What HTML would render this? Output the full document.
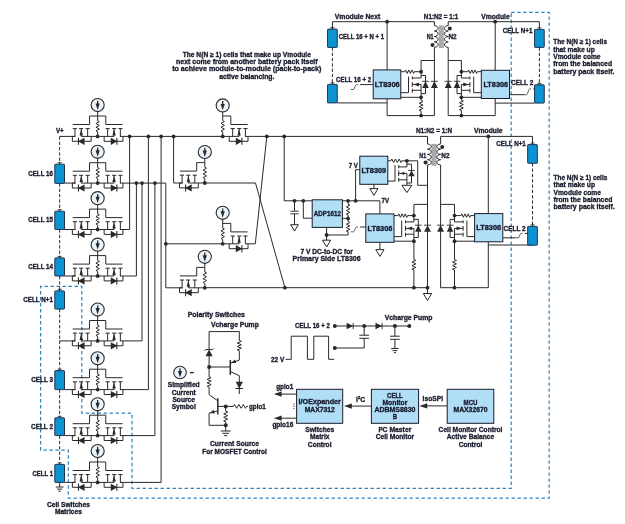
<!DOCTYPE html>
<html><head><meta charset="utf-8"><title>Active balancing diagram</title>
<style>
html,body{margin:0;padding:0;background:#fff;}
svg{display:block;will-change:transform;opacity:0.999;}
text{font-family:"Liberation Sans",sans-serif;font-weight:bold;stroke:#181b2c;stroke-width:0.32px;}
</style></head><body>
<svg width="625" height="524" viewBox="0 0 625 524">
<rect width="625" height="524" fill="#ffffff"/>
<polygon points="511.2,12.4 549.2,12.4 549.2,498.1 68.3,498.1 68.3,450.2 40.6,450.2 40.6,286.3 81.8,286.3 81.8,413.2 132,413.2 132,488.3 511.2,488.3" fill="none" stroke="#2b82bd" stroke-width="1.2" stroke-dasharray="3.4 2.6"/>
<line x1="59.65" y1="136.4" x2="59.65" y2="162.4" stroke="#2b2829" stroke-width="1" stroke-dasharray="3.3 2.0"/>
<line x1="59.65" y1="183.4" x2="59.65" y2="209.4" stroke="#2b2829" stroke-width="1" stroke-dasharray="3.3 2.0"/>
<line x1="59.65" y1="229.4" x2="59.65" y2="256.2" stroke="#2b2829" stroke-width="1" stroke-dasharray="3.3 2.0"/>
<line x1="59.65" y1="276" x2="59.65" y2="289.2" stroke="#2b2829" stroke-width="1" stroke-dasharray="3.3 2.0"/>
<line x1="59.65" y1="309" x2="59.65" y2="368.8" stroke="#2b2829" stroke-width="1" stroke-dasharray="3.3 2.0"/>
<line x1="59.65" y1="389.6" x2="59.65" y2="416.2" stroke="#2b2829" stroke-width="1" stroke-dasharray="3.3 2.0"/>
<line x1="59.65" y1="435.6" x2="59.65" y2="462.6" stroke="#2b2829" stroke-width="1" stroke-dasharray="3.3 2.0"/>
<line x1="59.65" y1="162.6" x2="59.65" y2="164.3" stroke="#2b2829" stroke-width="1" />
<line x1="57.65" y1="162.7" x2="61.65" y2="162.7" stroke="#2b2829" stroke-width="0.9" />
<rect x="54.8" y="164.2" width="9.7" height="19.2" fill="#0c93d2" stroke="#1c2b48" stroke-width="0.95" rx="0.6"/>
<line x1="59.65" y1="209.6" x2="59.65" y2="211.3" stroke="#2b2829" stroke-width="1" />
<line x1="57.65" y1="209.7" x2="61.65" y2="209.7" stroke="#2b2829" stroke-width="0.9" />
<rect x="54.8" y="211.2" width="9.7" height="18.3" fill="#0c93d2" stroke="#1c2b48" stroke-width="0.95" rx="0.6"/>
<line x1="59.65" y1="256.3" x2="59.65" y2="258" stroke="#2b2829" stroke-width="1" />
<line x1="57.65" y1="256.4" x2="61.65" y2="256.4" stroke="#2b2829" stroke-width="0.9" />
<rect x="54.8" y="257.9" width="9.7" height="18.1" fill="#0c93d2" stroke="#1c2b48" stroke-width="0.95" rx="0.6"/>
<line x1="59.65" y1="289.3" x2="59.65" y2="291" stroke="#2b2829" stroke-width="1" />
<line x1="57.65" y1="289.4" x2="61.65" y2="289.4" stroke="#2b2829" stroke-width="0.9" />
<rect x="54.8" y="290.9" width="9.7" height="18.2" fill="#0c93d2" stroke="#1c2b48" stroke-width="0.95" rx="0.6"/>
<line x1="59.65" y1="369" x2="59.65" y2="370.7" stroke="#2b2829" stroke-width="1" />
<line x1="57.65" y1="369.1" x2="61.65" y2="369.1" stroke="#2b2829" stroke-width="0.9" />
<rect x="54.8" y="370.6" width="9.7" height="19" fill="#0c93d2" stroke="#1c2b48" stroke-width="0.95" rx="0.6"/>
<line x1="59.65" y1="416.2" x2="59.65" y2="417.9" stroke="#2b2829" stroke-width="1" />
<line x1="57.65" y1="416.3" x2="61.65" y2="416.3" stroke="#2b2829" stroke-width="0.9" />
<rect x="54.8" y="417.8" width="9.7" height="17.8" fill="#0c93d2" stroke="#1c2b48" stroke-width="0.95" rx="0.6"/>
<line x1="59.65" y1="462.8" x2="59.65" y2="464.5" stroke="#2b2829" stroke-width="1" />
<line x1="57.65" y1="462.9" x2="61.65" y2="462.9" stroke="#2b2829" stroke-width="0.9" />
<rect x="54.8" y="464.4" width="9.7" height="18" fill="#0c93d2" stroke="#1c2b48" stroke-width="0.95" rx="0.6"/>
<line x1="59.65" y1="482.4" x2="59.65" y2="487" stroke="#2b2829" stroke-width="1" />
<line x1="55.75" y1="487" x2="63.55" y2="487" stroke="#2b2829" stroke-width="1" />
<line x1="57.15" y1="489.1" x2="62.15" y2="489.1" stroke="#2b2829" stroke-width="1" />
<line x1="58.45" y1="491.2" x2="60.85" y2="491.2" stroke="#2b2829" stroke-width="1" />
<line x1="59.65" y1="136.4" x2="75.35" y2="136.4" stroke="#2b2829" stroke-width="1" />
<line x1="64.45" y1="183.1" x2="75.35" y2="183.1" stroke="#2b2829" stroke-width="1" />
<line x1="64.45" y1="229.5" x2="75.35" y2="229.5" stroke="#2b2829" stroke-width="1" />
<line x1="64.45" y1="276" x2="75.35" y2="276" stroke="#2b2829" stroke-width="1" />
<line x1="64.45" y1="389.6" x2="75.35" y2="389.6" stroke="#2b2829" stroke-width="1" />
<line x1="64.45" y1="435.6" x2="75.35" y2="435.6" stroke="#2b2829" stroke-width="1" />
<line x1="64.45" y1="482.4" x2="75.35" y2="482.4" stroke="#2b2829" stroke-width="1" />
<line x1="59.65" y1="340.9" x2="75.35" y2="340.9" stroke="#2b2829" stroke-width="1" />
<circle cx="97.65" cy="105.1" r="6.55" fill="#eaf4fb" stroke="#2b2829" stroke-width="1.1"/>
<line x1="97.65" y1="100.8" x2="97.65" y2="105.1" stroke="#2b2829" stroke-width="1.3" />
<polygon points="95.55,103.6 99.75,103.6 97.65,110" fill="#2b2829" stroke="none" stroke-width="1"/>
<polyline points="97.65,111 97.65,120.8 99.35,121.72 95.95,123.55 99.35,125.38 95.95,127.22 99.35,129.05 95.95,130.88 97.65,131.8 97.65,136.4" fill="none" stroke="#2b2829" stroke-width="1" />
<polyline points="72.75,124.5 89.55,124.5 89.55,116 105.75,116 105.75,124.5 122.55,124.5" fill="none" stroke="#2b2829" stroke-width="1" />
<line x1="89.75" y1="128.6" x2="85.55" y2="128.6" stroke="#2b2829" stroke-width="1" />
<line x1="83.15" y1="128.6" x2="78.95" y2="128.6" stroke="#2b2829" stroke-width="1" />
<line x1="76.95" y1="128.6" x2="72.75" y2="128.6" stroke="#2b2829" stroke-width="1" />
<line x1="87.65" y1="128.6" x2="87.65" y2="136.4" stroke="#2b2829" stroke-width="1" />
<line x1="81.25" y1="128.6" x2="81.25" y2="136.4" stroke="#2b2829" stroke-width="1" />
<line x1="74.95" y1="128.6" x2="74.95" y2="136.4" stroke="#2b2829" stroke-width="1" />
<polygon points="79.55,135.4 82.95,135.4 81.25,129.1" fill="#2b2829" stroke="none" stroke-width="1"/>
<line x1="97.65" y1="136.4" x2="81.25" y2="136.4" stroke="#2b2829" stroke-width="1" />
<polyline points="91.15,136.4 91.15,141.3 72.35,141.3 72.35,136.4" fill="none" stroke="#2b2829" stroke-width="1" />
<line x1="75.35" y1="136.4" x2="72.35" y2="136.4" stroke="#2b2829" stroke-width="1" />
<polygon points="84.55,137.7 84.55,144.9 77.95,141.3" fill="#2b2829" stroke="none" stroke-width="1"/>
<line x1="78.45" y1="137.8" x2="78.45" y2="144.8" stroke="#2b2829" stroke-width="1.1" />
<line x1="105.55" y1="128.6" x2="109.75" y2="128.6" stroke="#2b2829" stroke-width="1" />
<line x1="112.15" y1="128.6" x2="116.35" y2="128.6" stroke="#2b2829" stroke-width="1" />
<line x1="118.35" y1="128.6" x2="122.55" y2="128.6" stroke="#2b2829" stroke-width="1" />
<line x1="107.65" y1="128.6" x2="107.65" y2="136.4" stroke="#2b2829" stroke-width="1" />
<line x1="114.05" y1="128.6" x2="114.05" y2="136.4" stroke="#2b2829" stroke-width="1" />
<line x1="120.35" y1="128.6" x2="120.35" y2="136.4" stroke="#2b2829" stroke-width="1" />
<polygon points="112.35,135.4 115.75,135.4 114.05,129.1" fill="#2b2829" stroke="none" stroke-width="1"/>
<line x1="97.65" y1="136.4" x2="114.05" y2="136.4" stroke="#2b2829" stroke-width="1" />
<polyline points="104.15,136.4 104.15,141.3 122.95,141.3 122.95,136.4" fill="none" stroke="#2b2829" stroke-width="1" />
<line x1="119.95" y1="136.4" x2="122.95" y2="136.4" stroke="#2b2829" stroke-width="1" />
<polygon points="110.75,137.7 110.75,144.9 117.35,141.3" fill="#2b2829" stroke="none" stroke-width="1"/>
<line x1="116.85" y1="137.8" x2="116.85" y2="144.8" stroke="#2b2829" stroke-width="1.1" />
<circle cx="97.65" cy="136.4" r="1.9" fill="#2b2829"/>
<circle cx="97.65" cy="151.8" r="6.55" fill="#eaf4fb" stroke="#2b2829" stroke-width="1.1"/>
<line x1="97.65" y1="147.5" x2="97.65" y2="151.8" stroke="#2b2829" stroke-width="1.3" />
<polygon points="95.55,150.3 99.75,150.3 97.65,156.7" fill="#2b2829" stroke="none" stroke-width="1"/>
<polyline points="97.65,157.7 97.65,167.5 99.35,168.42 95.95,170.25 99.35,172.08 95.95,173.92 99.35,175.75 95.95,177.58 97.65,178.5 97.65,183.1" fill="none" stroke="#2b2829" stroke-width="1" />
<polyline points="72.75,171.2 89.55,171.2 89.55,162.7 105.75,162.7 105.75,171.2 122.55,171.2" fill="none" stroke="#2b2829" stroke-width="1" />
<line x1="89.75" y1="175.3" x2="85.55" y2="175.3" stroke="#2b2829" stroke-width="1" />
<line x1="83.15" y1="175.3" x2="78.95" y2="175.3" stroke="#2b2829" stroke-width="1" />
<line x1="76.95" y1="175.3" x2="72.75" y2="175.3" stroke="#2b2829" stroke-width="1" />
<line x1="87.65" y1="175.3" x2="87.65" y2="183.1" stroke="#2b2829" stroke-width="1" />
<line x1="81.25" y1="175.3" x2="81.25" y2="183.1" stroke="#2b2829" stroke-width="1" />
<line x1="74.95" y1="175.3" x2="74.95" y2="183.1" stroke="#2b2829" stroke-width="1" />
<polygon points="79.55,182.1 82.95,182.1 81.25,175.8" fill="#2b2829" stroke="none" stroke-width="1"/>
<line x1="97.65" y1="183.1" x2="81.25" y2="183.1" stroke="#2b2829" stroke-width="1" />
<polyline points="91.15,183.1 91.15,188 72.35,188 72.35,183.1" fill="none" stroke="#2b2829" stroke-width="1" />
<line x1="75.35" y1="183.1" x2="72.35" y2="183.1" stroke="#2b2829" stroke-width="1" />
<polygon points="84.55,184.4 84.55,191.6 77.95,188" fill="#2b2829" stroke="none" stroke-width="1"/>
<line x1="78.45" y1="184.5" x2="78.45" y2="191.5" stroke="#2b2829" stroke-width="1.1" />
<line x1="105.55" y1="175.3" x2="109.75" y2="175.3" stroke="#2b2829" stroke-width="1" />
<line x1="112.15" y1="175.3" x2="116.35" y2="175.3" stroke="#2b2829" stroke-width="1" />
<line x1="118.35" y1="175.3" x2="122.55" y2="175.3" stroke="#2b2829" stroke-width="1" />
<line x1="107.65" y1="175.3" x2="107.65" y2="183.1" stroke="#2b2829" stroke-width="1" />
<line x1="114.05" y1="175.3" x2="114.05" y2="183.1" stroke="#2b2829" stroke-width="1" />
<line x1="120.35" y1="175.3" x2="120.35" y2="183.1" stroke="#2b2829" stroke-width="1" />
<polygon points="112.35,182.1 115.75,182.1 114.05,175.8" fill="#2b2829" stroke="none" stroke-width="1"/>
<line x1="97.65" y1="183.1" x2="114.05" y2="183.1" stroke="#2b2829" stroke-width="1" />
<polyline points="104.15,183.1 104.15,188 122.95,188 122.95,183.1" fill="none" stroke="#2b2829" stroke-width="1" />
<line x1="119.95" y1="183.1" x2="122.95" y2="183.1" stroke="#2b2829" stroke-width="1" />
<polygon points="110.75,184.4 110.75,191.6 117.35,188" fill="#2b2829" stroke="none" stroke-width="1"/>
<line x1="116.85" y1="184.5" x2="116.85" y2="191.5" stroke="#2b2829" stroke-width="1.1" />
<circle cx="97.65" cy="183.1" r="1.9" fill="#2b2829"/>
<circle cx="97.65" cy="198.2" r="6.55" fill="#eaf4fb" stroke="#2b2829" stroke-width="1.1"/>
<line x1="97.65" y1="193.9" x2="97.65" y2="198.2" stroke="#2b2829" stroke-width="1.3" />
<polygon points="95.55,196.7 99.75,196.7 97.65,203.1" fill="#2b2829" stroke="none" stroke-width="1"/>
<polyline points="97.65,204.1 97.65,213.9 99.35,214.82 95.95,216.65 99.35,218.48 95.95,220.32 99.35,222.15 95.95,223.98 97.65,224.9 97.65,229.5" fill="none" stroke="#2b2829" stroke-width="1" />
<polyline points="72.75,217.6 89.55,217.6 89.55,209.1 105.75,209.1 105.75,217.6 122.55,217.6" fill="none" stroke="#2b2829" stroke-width="1" />
<line x1="89.75" y1="221.7" x2="85.55" y2="221.7" stroke="#2b2829" stroke-width="1" />
<line x1="83.15" y1="221.7" x2="78.95" y2="221.7" stroke="#2b2829" stroke-width="1" />
<line x1="76.95" y1="221.7" x2="72.75" y2="221.7" stroke="#2b2829" stroke-width="1" />
<line x1="87.65" y1="221.7" x2="87.65" y2="229.5" stroke="#2b2829" stroke-width="1" />
<line x1="81.25" y1="221.7" x2="81.25" y2="229.5" stroke="#2b2829" stroke-width="1" />
<line x1="74.95" y1="221.7" x2="74.95" y2="229.5" stroke="#2b2829" stroke-width="1" />
<polygon points="79.55,228.5 82.95,228.5 81.25,222.2" fill="#2b2829" stroke="none" stroke-width="1"/>
<line x1="97.65" y1="229.5" x2="81.25" y2="229.5" stroke="#2b2829" stroke-width="1" />
<polyline points="91.15,229.5 91.15,234.4 72.35,234.4 72.35,229.5" fill="none" stroke="#2b2829" stroke-width="1" />
<line x1="75.35" y1="229.5" x2="72.35" y2="229.5" stroke="#2b2829" stroke-width="1" />
<polygon points="84.55,230.8 84.55,238 77.95,234.4" fill="#2b2829" stroke="none" stroke-width="1"/>
<line x1="78.45" y1="230.9" x2="78.45" y2="237.9" stroke="#2b2829" stroke-width="1.1" />
<line x1="105.55" y1="221.7" x2="109.75" y2="221.7" stroke="#2b2829" stroke-width="1" />
<line x1="112.15" y1="221.7" x2="116.35" y2="221.7" stroke="#2b2829" stroke-width="1" />
<line x1="118.35" y1="221.7" x2="122.55" y2="221.7" stroke="#2b2829" stroke-width="1" />
<line x1="107.65" y1="221.7" x2="107.65" y2="229.5" stroke="#2b2829" stroke-width="1" />
<line x1="114.05" y1="221.7" x2="114.05" y2="229.5" stroke="#2b2829" stroke-width="1" />
<line x1="120.35" y1="221.7" x2="120.35" y2="229.5" stroke="#2b2829" stroke-width="1" />
<polygon points="112.35,228.5 115.75,228.5 114.05,222.2" fill="#2b2829" stroke="none" stroke-width="1"/>
<line x1="97.65" y1="229.5" x2="114.05" y2="229.5" stroke="#2b2829" stroke-width="1" />
<polyline points="104.15,229.5 104.15,234.4 122.95,234.4 122.95,229.5" fill="none" stroke="#2b2829" stroke-width="1" />
<line x1="119.95" y1="229.5" x2="122.95" y2="229.5" stroke="#2b2829" stroke-width="1" />
<polygon points="110.75,230.8 110.75,238 117.35,234.4" fill="#2b2829" stroke="none" stroke-width="1"/>
<line x1="116.85" y1="230.9" x2="116.85" y2="237.9" stroke="#2b2829" stroke-width="1.1" />
<circle cx="97.65" cy="229.5" r="1.9" fill="#2b2829"/>
<circle cx="97.65" cy="244.7" r="6.55" fill="#eaf4fb" stroke="#2b2829" stroke-width="1.1"/>
<line x1="97.65" y1="240.4" x2="97.65" y2="244.7" stroke="#2b2829" stroke-width="1.3" />
<polygon points="95.55,243.2 99.75,243.2 97.65,249.6" fill="#2b2829" stroke="none" stroke-width="1"/>
<polyline points="97.65,250.6 97.65,260.4 99.35,261.32 95.95,263.15 99.35,264.98 95.95,266.82 99.35,268.65 95.95,270.48 97.65,271.4 97.65,276" fill="none" stroke="#2b2829" stroke-width="1" />
<polyline points="72.75,264.1 89.55,264.1 89.55,255.6 105.75,255.6 105.75,264.1 122.55,264.1" fill="none" stroke="#2b2829" stroke-width="1" />
<line x1="89.75" y1="268.2" x2="85.55" y2="268.2" stroke="#2b2829" stroke-width="1" />
<line x1="83.15" y1="268.2" x2="78.95" y2="268.2" stroke="#2b2829" stroke-width="1" />
<line x1="76.95" y1="268.2" x2="72.75" y2="268.2" stroke="#2b2829" stroke-width="1" />
<line x1="87.65" y1="268.2" x2="87.65" y2="276" stroke="#2b2829" stroke-width="1" />
<line x1="81.25" y1="268.2" x2="81.25" y2="276" stroke="#2b2829" stroke-width="1" />
<line x1="74.95" y1="268.2" x2="74.95" y2="276" stroke="#2b2829" stroke-width="1" />
<polygon points="79.55,275 82.95,275 81.25,268.7" fill="#2b2829" stroke="none" stroke-width="1"/>
<line x1="97.65" y1="276" x2="81.25" y2="276" stroke="#2b2829" stroke-width="1" />
<polyline points="91.15,276 91.15,280.9 72.35,280.9 72.35,276" fill="none" stroke="#2b2829" stroke-width="1" />
<line x1="75.35" y1="276" x2="72.35" y2="276" stroke="#2b2829" stroke-width="1" />
<polygon points="84.55,277.3 84.55,284.5 77.95,280.9" fill="#2b2829" stroke="none" stroke-width="1"/>
<line x1="78.45" y1="277.4" x2="78.45" y2="284.4" stroke="#2b2829" stroke-width="1.1" />
<line x1="105.55" y1="268.2" x2="109.75" y2="268.2" stroke="#2b2829" stroke-width="1" />
<line x1="112.15" y1="268.2" x2="116.35" y2="268.2" stroke="#2b2829" stroke-width="1" />
<line x1="118.35" y1="268.2" x2="122.55" y2="268.2" stroke="#2b2829" stroke-width="1" />
<line x1="107.65" y1="268.2" x2="107.65" y2="276" stroke="#2b2829" stroke-width="1" />
<line x1="114.05" y1="268.2" x2="114.05" y2="276" stroke="#2b2829" stroke-width="1" />
<line x1="120.35" y1="268.2" x2="120.35" y2="276" stroke="#2b2829" stroke-width="1" />
<polygon points="112.35,275 115.75,275 114.05,268.7" fill="#2b2829" stroke="none" stroke-width="1"/>
<line x1="97.65" y1="276" x2="114.05" y2="276" stroke="#2b2829" stroke-width="1" />
<polyline points="104.15,276 104.15,280.9 122.95,280.9 122.95,276" fill="none" stroke="#2b2829" stroke-width="1" />
<line x1="119.95" y1="276" x2="122.95" y2="276" stroke="#2b2829" stroke-width="1" />
<polygon points="110.75,277.3 110.75,284.5 117.35,280.9" fill="#2b2829" stroke="none" stroke-width="1"/>
<line x1="116.85" y1="277.4" x2="116.85" y2="284.4" stroke="#2b2829" stroke-width="1.1" />
<circle cx="97.65" cy="276" r="1.9" fill="#2b2829"/>
<circle cx="97.65" cy="309.6" r="6.55" fill="#eaf4fb" stroke="#2b2829" stroke-width="1.1"/>
<line x1="97.65" y1="305.3" x2="97.65" y2="309.6" stroke="#2b2829" stroke-width="1.3" />
<polygon points="95.55,308.1 99.75,308.1 97.65,314.5" fill="#2b2829" stroke="none" stroke-width="1"/>
<polyline points="97.65,315.5 97.65,325.3 99.35,326.22 95.95,328.05 99.35,329.88 95.95,331.72 99.35,333.55 95.95,335.38 97.65,336.3 97.65,340.9" fill="none" stroke="#2b2829" stroke-width="1" />
<polyline points="72.75,329 89.55,329 89.55,320.5 105.75,320.5 105.75,329 122.55,329" fill="none" stroke="#2b2829" stroke-width="1" />
<line x1="89.75" y1="333.1" x2="85.55" y2="333.1" stroke="#2b2829" stroke-width="1" />
<line x1="83.15" y1="333.1" x2="78.95" y2="333.1" stroke="#2b2829" stroke-width="1" />
<line x1="76.95" y1="333.1" x2="72.75" y2="333.1" stroke="#2b2829" stroke-width="1" />
<line x1="87.65" y1="333.1" x2="87.65" y2="340.9" stroke="#2b2829" stroke-width="1" />
<line x1="81.25" y1="333.1" x2="81.25" y2="340.9" stroke="#2b2829" stroke-width="1" />
<line x1="74.95" y1="333.1" x2="74.95" y2="340.9" stroke="#2b2829" stroke-width="1" />
<polygon points="79.55,339.9 82.95,339.9 81.25,333.6" fill="#2b2829" stroke="none" stroke-width="1"/>
<line x1="97.65" y1="340.9" x2="81.25" y2="340.9" stroke="#2b2829" stroke-width="1" />
<polyline points="91.15,340.9 91.15,345.8 72.35,345.8 72.35,340.9" fill="none" stroke="#2b2829" stroke-width="1" />
<line x1="75.35" y1="340.9" x2="72.35" y2="340.9" stroke="#2b2829" stroke-width="1" />
<polygon points="84.55,342.2 84.55,349.4 77.95,345.8" fill="#2b2829" stroke="none" stroke-width="1"/>
<line x1="78.45" y1="342.3" x2="78.45" y2="349.3" stroke="#2b2829" stroke-width="1.1" />
<line x1="105.55" y1="333.1" x2="109.75" y2="333.1" stroke="#2b2829" stroke-width="1" />
<line x1="112.15" y1="333.1" x2="116.35" y2="333.1" stroke="#2b2829" stroke-width="1" />
<line x1="118.35" y1="333.1" x2="122.55" y2="333.1" stroke="#2b2829" stroke-width="1" />
<line x1="107.65" y1="333.1" x2="107.65" y2="340.9" stroke="#2b2829" stroke-width="1" />
<line x1="114.05" y1="333.1" x2="114.05" y2="340.9" stroke="#2b2829" stroke-width="1" />
<line x1="120.35" y1="333.1" x2="120.35" y2="340.9" stroke="#2b2829" stroke-width="1" />
<polygon points="112.35,339.9 115.75,339.9 114.05,333.6" fill="#2b2829" stroke="none" stroke-width="1"/>
<line x1="97.65" y1="340.9" x2="114.05" y2="340.9" stroke="#2b2829" stroke-width="1" />
<polyline points="104.15,340.9 104.15,345.8 122.95,345.8 122.95,340.9" fill="none" stroke="#2b2829" stroke-width="1" />
<line x1="119.95" y1="340.9" x2="122.95" y2="340.9" stroke="#2b2829" stroke-width="1" />
<polygon points="110.75,342.2 110.75,349.4 117.35,345.8" fill="#2b2829" stroke="none" stroke-width="1"/>
<line x1="116.85" y1="342.3" x2="116.85" y2="349.3" stroke="#2b2829" stroke-width="1.1" />
<circle cx="97.65" cy="340.9" r="1.9" fill="#2b2829"/>
<circle cx="97.65" cy="358.3" r="6.55" fill="#eaf4fb" stroke="#2b2829" stroke-width="1.1"/>
<line x1="97.65" y1="354" x2="97.65" y2="358.3" stroke="#2b2829" stroke-width="1.3" />
<polygon points="95.55,356.8 99.75,356.8 97.65,363.2" fill="#2b2829" stroke="none" stroke-width="1"/>
<polyline points="97.65,364.2 97.65,374 99.35,374.92 95.95,376.75 99.35,378.58 95.95,380.42 99.35,382.25 95.95,384.08 97.65,385 97.65,389.6" fill="none" stroke="#2b2829" stroke-width="1" />
<polyline points="72.75,377.7 89.55,377.7 89.55,369.2 105.75,369.2 105.75,377.7 122.55,377.7" fill="none" stroke="#2b2829" stroke-width="1" />
<line x1="89.75" y1="381.8" x2="85.55" y2="381.8" stroke="#2b2829" stroke-width="1" />
<line x1="83.15" y1="381.8" x2="78.95" y2="381.8" stroke="#2b2829" stroke-width="1" />
<line x1="76.95" y1="381.8" x2="72.75" y2="381.8" stroke="#2b2829" stroke-width="1" />
<line x1="87.65" y1="381.8" x2="87.65" y2="389.6" stroke="#2b2829" stroke-width="1" />
<line x1="81.25" y1="381.8" x2="81.25" y2="389.6" stroke="#2b2829" stroke-width="1" />
<line x1="74.95" y1="381.8" x2="74.95" y2="389.6" stroke="#2b2829" stroke-width="1" />
<polygon points="79.55,388.6 82.95,388.6 81.25,382.3" fill="#2b2829" stroke="none" stroke-width="1"/>
<line x1="97.65" y1="389.6" x2="81.25" y2="389.6" stroke="#2b2829" stroke-width="1" />
<polyline points="91.15,389.6 91.15,394.5 72.35,394.5 72.35,389.6" fill="none" stroke="#2b2829" stroke-width="1" />
<line x1="75.35" y1="389.6" x2="72.35" y2="389.6" stroke="#2b2829" stroke-width="1" />
<polygon points="84.55,390.9 84.55,398.1 77.95,394.5" fill="#2b2829" stroke="none" stroke-width="1"/>
<line x1="78.45" y1="391" x2="78.45" y2="398" stroke="#2b2829" stroke-width="1.1" />
<line x1="105.55" y1="381.8" x2="109.75" y2="381.8" stroke="#2b2829" stroke-width="1" />
<line x1="112.15" y1="381.8" x2="116.35" y2="381.8" stroke="#2b2829" stroke-width="1" />
<line x1="118.35" y1="381.8" x2="122.55" y2="381.8" stroke="#2b2829" stroke-width="1" />
<line x1="107.65" y1="381.8" x2="107.65" y2="389.6" stroke="#2b2829" stroke-width="1" />
<line x1="114.05" y1="381.8" x2="114.05" y2="389.6" stroke="#2b2829" stroke-width="1" />
<line x1="120.35" y1="381.8" x2="120.35" y2="389.6" stroke="#2b2829" stroke-width="1" />
<polygon points="112.35,388.6 115.75,388.6 114.05,382.3" fill="#2b2829" stroke="none" stroke-width="1"/>
<line x1="97.65" y1="389.6" x2="114.05" y2="389.6" stroke="#2b2829" stroke-width="1" />
<polyline points="104.15,389.6 104.15,394.5 122.95,394.5 122.95,389.6" fill="none" stroke="#2b2829" stroke-width="1" />
<line x1="119.95" y1="389.6" x2="122.95" y2="389.6" stroke="#2b2829" stroke-width="1" />
<polygon points="110.75,390.9 110.75,398.1 117.35,394.5" fill="#2b2829" stroke="none" stroke-width="1"/>
<line x1="116.85" y1="391" x2="116.85" y2="398" stroke="#2b2829" stroke-width="1.1" />
<circle cx="97.65" cy="389.6" r="1.9" fill="#2b2829"/>
<circle cx="97.65" cy="404.3" r="6.55" fill="#eaf4fb" stroke="#2b2829" stroke-width="1.1"/>
<line x1="97.65" y1="400" x2="97.65" y2="404.3" stroke="#2b2829" stroke-width="1.3" />
<polygon points="95.55,402.8 99.75,402.8 97.65,409.2" fill="#2b2829" stroke="none" stroke-width="1"/>
<polyline points="97.65,410.2 97.65,420 99.35,420.92 95.95,422.75 99.35,424.58 95.95,426.42 99.35,428.25 95.95,430.08 97.65,431 97.65,435.6" fill="none" stroke="#2b2829" stroke-width="1" />
<polyline points="72.75,423.7 89.55,423.7 89.55,415.2 105.75,415.2 105.75,423.7 122.55,423.7" fill="none" stroke="#2b2829" stroke-width="1" />
<line x1="89.75" y1="427.8" x2="85.55" y2="427.8" stroke="#2b2829" stroke-width="1" />
<line x1="83.15" y1="427.8" x2="78.95" y2="427.8" stroke="#2b2829" stroke-width="1" />
<line x1="76.95" y1="427.8" x2="72.75" y2="427.8" stroke="#2b2829" stroke-width="1" />
<line x1="87.65" y1="427.8" x2="87.65" y2="435.6" stroke="#2b2829" stroke-width="1" />
<line x1="81.25" y1="427.8" x2="81.25" y2="435.6" stroke="#2b2829" stroke-width="1" />
<line x1="74.95" y1="427.8" x2="74.95" y2="435.6" stroke="#2b2829" stroke-width="1" />
<polygon points="79.55,434.6 82.95,434.6 81.25,428.3" fill="#2b2829" stroke="none" stroke-width="1"/>
<line x1="97.65" y1="435.6" x2="81.25" y2="435.6" stroke="#2b2829" stroke-width="1" />
<polyline points="91.15,435.6 91.15,440.5 72.35,440.5 72.35,435.6" fill="none" stroke="#2b2829" stroke-width="1" />
<line x1="75.35" y1="435.6" x2="72.35" y2="435.6" stroke="#2b2829" stroke-width="1" />
<polygon points="84.55,436.9 84.55,444.1 77.95,440.5" fill="#2b2829" stroke="none" stroke-width="1"/>
<line x1="78.45" y1="437" x2="78.45" y2="444" stroke="#2b2829" stroke-width="1.1" />
<line x1="105.55" y1="427.8" x2="109.75" y2="427.8" stroke="#2b2829" stroke-width="1" />
<line x1="112.15" y1="427.8" x2="116.35" y2="427.8" stroke="#2b2829" stroke-width="1" />
<line x1="118.35" y1="427.8" x2="122.55" y2="427.8" stroke="#2b2829" stroke-width="1" />
<line x1="107.65" y1="427.8" x2="107.65" y2="435.6" stroke="#2b2829" stroke-width="1" />
<line x1="114.05" y1="427.8" x2="114.05" y2="435.6" stroke="#2b2829" stroke-width="1" />
<line x1="120.35" y1="427.8" x2="120.35" y2="435.6" stroke="#2b2829" stroke-width="1" />
<polygon points="112.35,434.6 115.75,434.6 114.05,428.3" fill="#2b2829" stroke="none" stroke-width="1"/>
<line x1="97.65" y1="435.6" x2="114.05" y2="435.6" stroke="#2b2829" stroke-width="1" />
<polyline points="104.15,435.6 104.15,440.5 122.95,440.5 122.95,435.6" fill="none" stroke="#2b2829" stroke-width="1" />
<line x1="119.95" y1="435.6" x2="122.95" y2="435.6" stroke="#2b2829" stroke-width="1" />
<polygon points="110.75,436.9 110.75,444.1 117.35,440.5" fill="#2b2829" stroke="none" stroke-width="1"/>
<line x1="116.85" y1="437" x2="116.85" y2="444" stroke="#2b2829" stroke-width="1.1" />
<circle cx="97.65" cy="435.6" r="1.9" fill="#2b2829"/>
<circle cx="97.65" cy="451.1" r="6.55" fill="#eaf4fb" stroke="#2b2829" stroke-width="1.1"/>
<line x1="97.65" y1="446.8" x2="97.65" y2="451.1" stroke="#2b2829" stroke-width="1.3" />
<polygon points="95.55,449.6 99.75,449.6 97.65,456" fill="#2b2829" stroke="none" stroke-width="1"/>
<polyline points="97.65,457 97.65,466.8 99.35,467.72 95.95,469.55 99.35,471.38 95.95,473.22 99.35,475.05 95.95,476.88 97.65,477.8 97.65,482.4" fill="none" stroke="#2b2829" stroke-width="1" />
<polyline points="72.75,470.5 89.55,470.5 89.55,462 105.75,462 105.75,470.5 122.55,470.5" fill="none" stroke="#2b2829" stroke-width="1" />
<line x1="89.75" y1="474.6" x2="85.55" y2="474.6" stroke="#2b2829" stroke-width="1" />
<line x1="83.15" y1="474.6" x2="78.95" y2="474.6" stroke="#2b2829" stroke-width="1" />
<line x1="76.95" y1="474.6" x2="72.75" y2="474.6" stroke="#2b2829" stroke-width="1" />
<line x1="87.65" y1="474.6" x2="87.65" y2="482.4" stroke="#2b2829" stroke-width="1" />
<line x1="81.25" y1="474.6" x2="81.25" y2="482.4" stroke="#2b2829" stroke-width="1" />
<line x1="74.95" y1="474.6" x2="74.95" y2="482.4" stroke="#2b2829" stroke-width="1" />
<polygon points="79.55,481.4 82.95,481.4 81.25,475.1" fill="#2b2829" stroke="none" stroke-width="1"/>
<line x1="97.65" y1="482.4" x2="81.25" y2="482.4" stroke="#2b2829" stroke-width="1" />
<polyline points="91.15,482.4 91.15,487.3 72.35,487.3 72.35,482.4" fill="none" stroke="#2b2829" stroke-width="1" />
<line x1="75.35" y1="482.4" x2="72.35" y2="482.4" stroke="#2b2829" stroke-width="1" />
<polygon points="84.55,483.7 84.55,490.9 77.95,487.3" fill="#2b2829" stroke="none" stroke-width="1"/>
<line x1="78.45" y1="483.8" x2="78.45" y2="490.8" stroke="#2b2829" stroke-width="1.1" />
<line x1="105.55" y1="474.6" x2="109.75" y2="474.6" stroke="#2b2829" stroke-width="1" />
<line x1="112.15" y1="474.6" x2="116.35" y2="474.6" stroke="#2b2829" stroke-width="1" />
<line x1="118.35" y1="474.6" x2="122.55" y2="474.6" stroke="#2b2829" stroke-width="1" />
<line x1="107.65" y1="474.6" x2="107.65" y2="482.4" stroke="#2b2829" stroke-width="1" />
<line x1="114.05" y1="474.6" x2="114.05" y2="482.4" stroke="#2b2829" stroke-width="1" />
<line x1="120.35" y1="474.6" x2="120.35" y2="482.4" stroke="#2b2829" stroke-width="1" />
<polygon points="112.35,481.4 115.75,481.4 114.05,475.1" fill="#2b2829" stroke="none" stroke-width="1"/>
<line x1="97.65" y1="482.4" x2="114.05" y2="482.4" stroke="#2b2829" stroke-width="1" />
<polyline points="104.15,482.4 104.15,487.3 122.95,487.3 122.95,482.4" fill="none" stroke="#2b2829" stroke-width="1" />
<line x1="119.95" y1="482.4" x2="122.95" y2="482.4" stroke="#2b2829" stroke-width="1" />
<polygon points="110.75,483.7 110.75,490.9 117.35,487.3" fill="#2b2829" stroke="none" stroke-width="1"/>
<line x1="116.85" y1="483.8" x2="116.85" y2="490.8" stroke="#2b2829" stroke-width="1.1" />
<circle cx="97.65" cy="482.4" r="1.9" fill="#2b2829"/>
<polyline points="122.95,136.4 222.7,136.4" fill="none" stroke="#2b2829" stroke-width="1" />
<polyline points="248,136.4 427.5,136.4 427.5,143.9" fill="none" stroke="#2b2829" stroke-width="1" />
<polyline points="122.95,183.1 165.8,183.1 165.8,287.8" fill="none" stroke="#2b2829" stroke-width="1" />
<polyline points="122.95,229.5 129.6,229.5 129.6,136.4" fill="none" stroke="#2b2829" stroke-width="1" />
<polyline points="122.95,276 136.4,276 136.4,183.1" fill="none" stroke="#2b2829" stroke-width="1" />
<polyline points="122.95,340.9 142,340.9 142,183.1" fill="none" stroke="#2b2829" stroke-width="1" />
<polyline points="122.95,389.6 148.4,389.6 148.4,136.4" fill="none" stroke="#2b2829" stroke-width="1" />
<polyline points="122.95,435.6 154.9,435.6 154.9,183.1" fill="none" stroke="#2b2829" stroke-width="1" />
<polyline points="122.95,482.4 161.1,482.4 161.1,136.4" fill="none" stroke="#2b2829" stroke-width="1" />
<circle cx="129.6" cy="136.4" r="1.9" fill="#2b2829"/>
<circle cx="148.4" cy="136.4" r="1.9" fill="#2b2829"/>
<circle cx="161.1" cy="136.4" r="1.9" fill="#2b2829"/>
<circle cx="173.6" cy="136.4" r="1.9" fill="#2b2829"/>
<circle cx="136.4" cy="183.1" r="1.9" fill="#2b2829"/>
<circle cx="142" cy="183.1" r="1.9" fill="#2b2829"/>
<circle cx="154.9" cy="183.1" r="1.9" fill="#2b2829"/>
<polyline points="173.6,136.4 173.6,183 182.5,183" fill="none" stroke="#2b2829" stroke-width="1" />
<circle cx="222.7" cy="105.4" r="6.55" fill="#eaf4fb" stroke="#2b2829" stroke-width="1.1"/>
<line x1="222.7" y1="101.1" x2="222.7" y2="105.4" stroke="#2b2829" stroke-width="1.3" />
<polygon points="220.6,103.9 224.8,103.9 222.7,110.3" fill="#2b2829" stroke="none" stroke-width="1"/>
<polyline points="222.7,111.6 222.7,120.6 224.4,121.55 221,123.45 224.4,125.35 221,127.25 224.4,129.15 221,131.05 222.7,132 222.7,136.4" fill="none" stroke="#2b2829" stroke-width="1" />
<polyline points="222.7,116 230.8,116 230.8,124.5 247.6,124.5" fill="none" stroke="#2b2829" stroke-width="1" />
<line x1="230.6" y1="128.6" x2="234.8" y2="128.6" stroke="#2b2829" stroke-width="1" />
<line x1="237.2" y1="128.6" x2="241.4" y2="128.6" stroke="#2b2829" stroke-width="1" />
<line x1="243.4" y1="128.6" x2="247.6" y2="128.6" stroke="#2b2829" stroke-width="1" />
<line x1="232.7" y1="128.6" x2="232.7" y2="136.4" stroke="#2b2829" stroke-width="1" />
<line x1="239.1" y1="128.6" x2="239.1" y2="136.4" stroke="#2b2829" stroke-width="1" />
<line x1="245.4" y1="128.6" x2="245.4" y2="136.4" stroke="#2b2829" stroke-width="1" />
<polygon points="237.4,135.4 240.8,135.4 239.1,129.1" fill="#2b2829" stroke="none" stroke-width="1"/>
<line x1="222.7" y1="136.4" x2="239.1" y2="136.4" stroke="#2b2829" stroke-width="1" />
<polyline points="229.2,136.4 229.2,141.3 248,141.3 248,136.4" fill="none" stroke="#2b2829" stroke-width="1" />
<line x1="245" y1="136.4" x2="248" y2="136.4" stroke="#2b2829" stroke-width="1" />
<polygon points="235.8,137.7 235.8,144.9 242.4,141.3" fill="#2b2829" stroke="none" stroke-width="1"/>
<line x1="241.9" y1="137.8" x2="241.9" y2="144.8" stroke="#2b2829" stroke-width="1.1" />
<circle cx="222.7" cy="136.4" r="1.9" fill="#2b2829"/>
<circle cx="204.8" cy="152" r="6.55" fill="#eaf4fb" stroke="#2b2829" stroke-width="1.1"/>
<line x1="204.8" y1="147.7" x2="204.8" y2="152" stroke="#2b2829" stroke-width="1.3" />
<polygon points="202.7,150.5 206.9,150.5 204.8,156.9" fill="#2b2829" stroke="none" stroke-width="1"/>
<polyline points="204.8,158.2 204.8,167.2 206.5,168.15 203.1,170.05 206.5,171.95 203.1,173.85 206.5,175.75 203.1,177.65 204.8,178.6 204.8,183" fill="none" stroke="#2b2829" stroke-width="1" />
<polyline points="204.8,162.6 196.7,162.6 196.7,171.1 179.9,171.1" fill="none" stroke="#2b2829" stroke-width="1" />
<line x1="196.9" y1="175.2" x2="192.7" y2="175.2" stroke="#2b2829" stroke-width="1" />
<line x1="190.3" y1="175.2" x2="186.1" y2="175.2" stroke="#2b2829" stroke-width="1" />
<line x1="184.1" y1="175.2" x2="179.9" y2="175.2" stroke="#2b2829" stroke-width="1" />
<line x1="194.8" y1="175.2" x2="194.8" y2="183" stroke="#2b2829" stroke-width="1" />
<line x1="188.4" y1="175.2" x2="188.4" y2="183" stroke="#2b2829" stroke-width="1" />
<line x1="182.1" y1="175.2" x2="182.1" y2="183" stroke="#2b2829" stroke-width="1" />
<polygon points="186.7,182 190.1,182 188.4,175.7" fill="#2b2829" stroke="none" stroke-width="1"/>
<line x1="204.8" y1="183" x2="188.4" y2="183" stroke="#2b2829" stroke-width="1" />
<polyline points="198.3,183 198.3,187.9 179.5,187.9 179.5,183" fill="none" stroke="#2b2829" stroke-width="1" />
<line x1="182.5" y1="183" x2="179.5" y2="183" stroke="#2b2829" stroke-width="1" />
<polygon points="191.7,184.3 191.7,191.5 185.1,187.9" fill="#2b2829" stroke="none" stroke-width="1"/>
<line x1="185.6" y1="184.4" x2="185.6" y2="191.4" stroke="#2b2829" stroke-width="1.1" />
<circle cx="204.8" cy="183" r="1.9" fill="#2b2829"/>
<circle cx="222.7" cy="212.8" r="6.55" fill="#eaf4fb" stroke="#2b2829" stroke-width="1.1"/>
<line x1="222.7" y1="208.5" x2="222.7" y2="212.8" stroke="#2b2829" stroke-width="1.3" />
<polygon points="220.6,211.3 224.8,211.3 222.7,217.7" fill="#2b2829" stroke="none" stroke-width="1"/>
<polyline points="222.7,219 222.7,228 224.4,228.95 221,230.85 224.4,232.75 221,234.65 224.4,236.55 221,238.45 222.7,239.4 222.7,243.8" fill="none" stroke="#2b2829" stroke-width="1" />
<polyline points="222.7,223.4 230.8,223.4 230.8,231.9 247.6,231.9" fill="none" stroke="#2b2829" stroke-width="1" />
<line x1="230.6" y1="236" x2="234.8" y2="236" stroke="#2b2829" stroke-width="1" />
<line x1="237.2" y1="236" x2="241.4" y2="236" stroke="#2b2829" stroke-width="1" />
<line x1="243.4" y1="236" x2="247.6" y2="236" stroke="#2b2829" stroke-width="1" />
<line x1="232.7" y1="236" x2="232.7" y2="243.8" stroke="#2b2829" stroke-width="1" />
<line x1="239.1" y1="236" x2="239.1" y2="243.8" stroke="#2b2829" stroke-width="1" />
<line x1="245.4" y1="236" x2="245.4" y2="243.8" stroke="#2b2829" stroke-width="1" />
<polygon points="237.4,242.8 240.8,242.8 239.1,236.5" fill="#2b2829" stroke="none" stroke-width="1"/>
<line x1="222.7" y1="243.8" x2="239.1" y2="243.8" stroke="#2b2829" stroke-width="1" />
<polyline points="229.2,243.8 229.2,248.7 248,248.7 248,243.8" fill="none" stroke="#2b2829" stroke-width="1" />
<line x1="245" y1="243.8" x2="248" y2="243.8" stroke="#2b2829" stroke-width="1" />
<polygon points="235.8,245.1 235.8,252.3 242.4,248.7" fill="#2b2829" stroke="none" stroke-width="1"/>
<line x1="241.9" y1="245.2" x2="241.9" y2="252.2" stroke="#2b2829" stroke-width="1.1" />
<circle cx="222.7" cy="243.8" r="1.9" fill="#2b2829"/>
<circle cx="204.8" cy="256.8" r="6.55" fill="#eaf4fb" stroke="#2b2829" stroke-width="1.1"/>
<line x1="204.8" y1="252.5" x2="204.8" y2="256.8" stroke="#2b2829" stroke-width="1.3" />
<polygon points="202.7,255.3 206.9,255.3 204.8,261.7" fill="#2b2829" stroke="none" stroke-width="1"/>
<polyline points="204.8,263 204.8,272 206.5,272.95 203.1,274.85 206.5,276.75 203.1,278.65 206.5,280.55 203.1,282.45 204.8,283.4 204.8,287.8" fill="none" stroke="#2b2829" stroke-width="1" />
<polyline points="204.8,267.4 196.7,267.4 196.7,275.9 179.9,275.9" fill="none" stroke="#2b2829" stroke-width="1" />
<line x1="196.9" y1="280" x2="192.7" y2="280" stroke="#2b2829" stroke-width="1" />
<line x1="190.3" y1="280" x2="186.1" y2="280" stroke="#2b2829" stroke-width="1" />
<line x1="184.1" y1="280" x2="179.9" y2="280" stroke="#2b2829" stroke-width="1" />
<line x1="194.8" y1="280" x2="194.8" y2="287.8" stroke="#2b2829" stroke-width="1" />
<line x1="188.4" y1="280" x2="188.4" y2="287.8" stroke="#2b2829" stroke-width="1" />
<line x1="182.1" y1="280" x2="182.1" y2="287.8" stroke="#2b2829" stroke-width="1" />
<polygon points="186.7,286.8 190.1,286.8 188.4,280.5" fill="#2b2829" stroke="none" stroke-width="1"/>
<line x1="204.8" y1="287.8" x2="188.4" y2="287.8" stroke="#2b2829" stroke-width="1" />
<polyline points="198.3,287.8 198.3,292.7 179.5,292.7 179.5,287.8" fill="none" stroke="#2b2829" stroke-width="1" />
<line x1="182.5" y1="287.8" x2="179.5" y2="287.8" stroke="#2b2829" stroke-width="1" />
<polygon points="191.7,289.1 191.7,296.3 185.1,292.7" fill="#2b2829" stroke="none" stroke-width="1"/>
<line x1="185.6" y1="289.2" x2="185.6" y2="296.2" stroke="#2b2829" stroke-width="1.1" />
<circle cx="204.8" cy="287.8" r="1.9" fill="#2b2829"/>
<polyline points="204.8,183 255.5,183 284.9,287.7" fill="none" stroke="#2b2829" stroke-width="1" />
<polyline points="266.8,136.4 255.3,243.8 248,243.8" fill="none" stroke="#2b2829" stroke-width="1" />
<line x1="165.8" y1="243.8" x2="222.7" y2="243.8" stroke="#2b2829" stroke-width="1" />
<circle cx="165.8" cy="243.8" r="1.9" fill="#2b2829"/>
<line x1="165.8" y1="287.8" x2="182.5" y2="287.8" stroke="#2b2829" stroke-width="1" />
<polyline points="204.8,287.7 427.5,287.7" fill="none" stroke="#2b2829" stroke-width="1" />
<circle cx="266.8" cy="136.4" r="1.9" fill="#2b2829"/>
<circle cx="284.2" cy="136.4" r="1.9" fill="#2b2829"/>
<circle cx="284.9" cy="287.7" r="1.9" fill="#2b2829"/>
<polyline points="284.2,136.4 284.2,200.8 312.2,200.8" fill="none" stroke="#2b2829" stroke-width="1" />
<circle cx="294.5" cy="200.8" r="1.9" fill="#2b2829"/>
<circle cx="303.3" cy="200.8" r="1.9" fill="#2b2829"/>
<line x1="294.5" y1="200.8" x2="294.5" y2="211.2" stroke="#2b2829" stroke-width="1" />
<line x1="290.3" y1="211.2" x2="298.7" y2="211.2" stroke="#2b2829" stroke-width="0.9" />
<line x1="290.3" y1="213.8" x2="298.7" y2="213.8" stroke="#2b2829" stroke-width="0.9" />
<line x1="294.5" y1="213.8" x2="294.5" y2="224.7" stroke="#2b2829" stroke-width="1" />
<polygon points="290.7,224.7 298.3,224.7 294.5,231.1" fill="#fff" stroke="#2b2829" stroke-width="1"/>
<polyline points="303.3,200.8 303.3,218.2 312.2,218.2" fill="none" stroke="#2b2829" stroke-width="1" />
<rect x="312.2" y="199.8" width="30.2" height="27.6" fill="#b1def7" stroke="#1b1c28" stroke-width="1" rx="0"/>
<text x="327.3" y="215.98" text-anchor="middle" textLength="27.2" lengthAdjust="spacingAndGlyphs" font-size="6.7" fill="#181b2c">ADP1612</text>
<polyline points="342.4,200.8 379.9,200.8 379.9,213.8" fill="none" stroke="#2b2829" stroke-width="1" />
<line x1="342.4" y1="218.4" x2="348.1" y2="218.4" stroke="#2b2829" stroke-width="1" />
<polyline points="348.1,200.8 348.1,204.2 349.8,205.1 346.4,206.9 349.8,208.7 346.4,210.5 349.8,212.3 346.4,214.1 348.1,215 348.1,218.4" fill="none" stroke="#2b2829" stroke-width="1" />
<polyline points="348.1,218.4 348.1,221.6 349.8,222.45 346.4,224.15 349.8,225.85 346.4,227.55 349.8,229.25 346.4,230.95 348.1,231.8 348.1,235" fill="none" stroke="#2b2829" stroke-width="1" />
<polyline points="348.1,235 326.6,235" fill="none" stroke="#2b2829" stroke-width="1" />
<line x1="326.6" y1="227.4" x2="326.6" y2="240.2" stroke="#2b2829" stroke-width="1" />
<polygon points="322.5,240.2 330.7,240.2 326.6,247" fill="#fff" stroke="#2b2829" stroke-width="1"/>
<circle cx="326.6" cy="235" r="1.9" fill="#2b2829"/>
<circle cx="348.1" cy="200.8" r="1.9" fill="#2b2829"/>
<circle cx="348.1" cy="218.4" r="1.9" fill="#2b2829"/>
<circle cx="355.6" cy="200.8" r="1.9" fill="#2b2829"/>
<polyline points="355.6,200.8 355.6,169.7 359.8,169.7" fill="none" stroke="#2b2829" stroke-width="1" />
<path d="M350.9,231.8 h2.6 c1.6,0 1.4,-4.8 3,-4.8 h1.5" fill="none" stroke="#333333" stroke-width="0.8"/>
<line x1="360.1" y1="227" x2="365.8" y2="227" stroke="#2b2829" stroke-width="1" />
<rect x="365.8" y="213.9" width="28.2" height="28.4" fill="#b1def7" stroke="#1b1c28" stroke-width="1" rx="0"/>
<text x="380" y="230.78" text-anchor="middle" textLength="24.8" lengthAdjust="spacingAndGlyphs" font-size="6.7" fill="#181b2c">LT8306</text>
<line x1="379.9" y1="242.3" x2="379.9" y2="249.6" stroke="#2b2829" stroke-width="1" />
<polygon points="375.8,249.6 384,249.6 379.9,256.4" fill="#fff" stroke="#2b2829" stroke-width="1"/>
<rect x="359.8" y="156.2" width="28" height="28.1" fill="#b1def7" stroke="#1b1c28" stroke-width="1" rx="0"/>
<text x="373.8" y="172.58" text-anchor="middle" textLength="24.8" lengthAdjust="spacingAndGlyphs" font-size="6.7" fill="#181b2c">LT8309</text>
<line x1="373.9" y1="184.3" x2="373.9" y2="188.6" stroke="#2b2829" stroke-width="1" />
<polygon points="369.8,188.6 378,188.6 373.9,195.4" fill="#fff" stroke="#2b2829" stroke-width="1"/>
<polyline points="387.8,160.8 390.9,160.8 391.82,159.05 393.65,162.55 395.48,159.05 397.32,162.55 399.15,159.05 400.98,162.55 401.9,160.8 406.9,160.8" fill="none" stroke="#2b2829" stroke-width="1" />
<polyline points="406.9,160.8 417.7,160.8 417.7,185.3 427.5,185.3" fill="none" stroke="#2b2829" stroke-width="1" />
<polyline points="387.8,181.1 395,181.1 395,165.1" fill="none" stroke="#2b2829" stroke-width="1" />
<line x1="398.7" y1="165.1" x2="398.7" y2="168.3" stroke="#2b2829" stroke-width="1" />
<line x1="398.7" y1="170.6" x2="398.7" y2="176.1" stroke="#2b2829" stroke-width="1" />
<line x1="398.7" y1="177.9" x2="398.7" y2="181.6" stroke="#2b2829" stroke-width="1" />
<line x1="398.7" y1="166.9" x2="406.9" y2="166.9" stroke="#2b2829" stroke-width="1" />
<line x1="398.7" y1="173.4" x2="406.9" y2="173.4" stroke="#2b2829" stroke-width="1" />
<line x1="398.7" y1="179.8" x2="406.9" y2="179.8" stroke="#2b2829" stroke-width="1" />
<line x1="406.9" y1="160.8" x2="406.9" y2="166.9" stroke="#2b2829" stroke-width="1" />
<line x1="406.9" y1="173.4" x2="406.9" y2="185.3" stroke="#2b2829" stroke-width="1" />
<polygon points="400.2,173.4 404.4,171.8 404.4,175" fill="#2b2829" stroke="none" stroke-width="1"/>
<polyline points="406.9,164.2 411.5,164.2 411.5,183 406.9,183" fill="none" stroke="#2b2829" stroke-width="1" />
<polygon points="408.2,176.3 414.8,176.3 411.5,170.5" fill="#2b2829" stroke="none" stroke-width="1"/>
<line x1="408.2" y1="170.5" x2="414.8" y2="170.5" stroke="#2b2829" stroke-width="0.9" />
<polygon points="401.9,185.3 411.9,185.3 406.9,192.6" fill="#fff" stroke="#2b2829" stroke-width="1"/>
<circle cx="406.9" cy="160.8" r="1.9" fill="#2b2829"/>
<rect x="431.85" y="144.1" width="4.4" height="21.3" fill="#a9abae" stroke="#8a8c8f" stroke-width="0.4"/>
<path d="M427.5,143.9 c5,0.4 5,4.87 0,5.27 c5,0.4 5,4.87 0,5.27 c5,0.4 5,4.87 0,5.27 c5,0.4 5,4.87 0,5.27" fill="none" stroke="#2b2829" stroke-width="1" stroke-linejoin="miter"/>
<path d="M440.6,143.9 c-5,0.4 -5,4.87 0,5.27 c-5,0.4 -5,4.87 0,5.27 c-5,0.4 -5,4.87 0,5.27 c-5,0.4 -5,4.87 0,5.27" fill="none" stroke="#2b2829" stroke-width="1" stroke-linejoin="miter"/>
<circle cx="425.6" cy="162.6" r="2" fill="#2b2829"/>
<circle cx="442.2" cy="146.9" r="2" fill="#2b2829"/>
<line x1="427.5" y1="165" x2="427.5" y2="287.7" stroke="#2b2829" stroke-width="1" />
<line x1="427.5" y1="287.7" x2="427.5" y2="293.5" stroke="#2b2829" stroke-width="1" />
<polygon points="423.3,293.5 431.7,293.5 427.5,300.5" fill="#fff" stroke="#2b2829" stroke-width="1"/>
<circle cx="427.5" cy="287.7" r="1.9" fill="#2b2829"/>
<polyline points="394,215.6 398,215.6 398.8,213.85 400.4,217.35 402,213.85 403.6,217.35 405.2,213.85 406.8,217.35 407.6,215.6 413.9,215.6" fill="none" stroke="#2b2829" stroke-width="1" />
<polyline points="413.9,215.6 413.9,204.4 427.5,204.4" fill="none" stroke="#2b2829" stroke-width="1" />
<polyline points="394,236.6 401.7,236.6 401.7,220.5" fill="none" stroke="#2b2829" stroke-width="1" />
<line x1="405.5" y1="220.3" x2="405.5" y2="223.2" stroke="#2b2829" stroke-width="1" />
<line x1="405.5" y1="226" x2="405.5" y2="230.8" stroke="#2b2829" stroke-width="1" />
<line x1="405.5" y1="232.7" x2="405.5" y2="236.6" stroke="#2b2829" stroke-width="1" />
<line x1="405.5" y1="221.9" x2="413.9" y2="221.9" stroke="#2b2829" stroke-width="1" />
<line x1="405.5" y1="228.4" x2="413.9" y2="228.4" stroke="#2b2829" stroke-width="1" />
<line x1="405.5" y1="234.2" x2="413.9" y2="234.2" stroke="#2b2829" stroke-width="1" />
<line x1="413.9" y1="215.6" x2="413.9" y2="221.9" stroke="#2b2829" stroke-width="1" />
<line x1="413.9" y1="228.4" x2="413.9" y2="241.2" stroke="#2b2829" stroke-width="1" />
<polygon points="406.7,228.4 412.1,226.5 412.1,230.3" fill="#2b2829" stroke="none" stroke-width="1"/>
<polyline points="413.9,219.4 418.3,219.4 418.3,237.5 413.9,237.5" fill="none" stroke="#2b2829" stroke-width="1" />
<polygon points="415,231.8 421.6,231.8 418.3,225.2" fill="#2b2829" stroke="none" stroke-width="1"/>
<line x1="415" y1="225.2" x2="421.6" y2="225.2" stroke="#2b2829" stroke-width="0.9" />
<polygon points="424,231.8 431,231.8 427.5,225.2" fill="#2b2829" stroke="none" stroke-width="1"/>
<line x1="424" y1="225.2" x2="431" y2="225.2" stroke="#2b2829" stroke-width="0.9" />
<line x1="394" y1="241.2" x2="413.9" y2="241.2" stroke="#2b2829" stroke-width="1" />
<polyline points="413.9,241.2 413.9,259.5 415.85,260.38 411.95,262.12 415.85,263.88 411.95,265.62 415.85,267.38 411.95,269.12 413.9,270 413.9,287.7" fill="none" stroke="#2b2829" stroke-width="1" />
<circle cx="413.9" cy="215.6" r="1.9" fill="#2b2829"/>
<circle cx="413.9" cy="241.2" r="1.9" fill="#2b2829"/>
<circle cx="413.9" cy="287.7" r="1.9" fill="#2b2829"/>
<polyline points="440.6,143.9 440.6,136.4 532.5,136.4 532.5,143" fill="none" stroke="#2b2829" stroke-width="1" />
<polyline points="440.6,165 440.6,287.7 488.3,287.7 488.3,241.8" fill="none" stroke="#2b2829" stroke-width="1" />
<polyline points="454.5,215.6 461,215.6 461.8,213.85 463.4,217.35 465,213.85 466.6,217.35 468.2,213.85 469.8,217.35 470.6,215.6 474.6,215.6" fill="none" stroke="#2b2829" stroke-width="1" />
<polyline points="454.5,215.6 454.5,204.4 440.6,204.4" fill="none" stroke="#2b2829" stroke-width="1" />
<polyline points="474.6,236.6 466.9,236.6 466.9,220.5" fill="none" stroke="#2b2829" stroke-width="1" />
<line x1="463.1" y1="220.3" x2="463.1" y2="223.2" stroke="#2b2829" stroke-width="1" />
<line x1="463.1" y1="226" x2="463.1" y2="230.8" stroke="#2b2829" stroke-width="1" />
<line x1="463.1" y1="232.7" x2="463.1" y2="236.6" stroke="#2b2829" stroke-width="1" />
<line x1="463.1" y1="221.9" x2="454.5" y2="221.9" stroke="#2b2829" stroke-width="1" />
<line x1="463.1" y1="228.4" x2="454.5" y2="228.4" stroke="#2b2829" stroke-width="1" />
<line x1="463.1" y1="234.2" x2="454.5" y2="234.2" stroke="#2b2829" stroke-width="1" />
<line x1="454.5" y1="215.6" x2="454.5" y2="221.9" stroke="#2b2829" stroke-width="1" />
<line x1="454.5" y1="228.4" x2="454.5" y2="241.2" stroke="#2b2829" stroke-width="1" />
<polygon points="461.9,228.4 456.5,226.5 456.5,230.3" fill="#2b2829" stroke="none" stroke-width="1"/>
<polyline points="454.5,219.4 450.1,219.4 450.1,237.5 454.5,237.5" fill="none" stroke="#2b2829" stroke-width="1" />
<polygon points="446.8,231.8 453.4,231.8 450.1,225.2" fill="#2b2829" stroke="none" stroke-width="1"/>
<line x1="446.8" y1="225.2" x2="453.4" y2="225.2" stroke="#2b2829" stroke-width="0.9" />
<polygon points="437.1,231.8 444.1,231.8 440.6,225.2" fill="#2b2829" stroke="none" stroke-width="1"/>
<line x1="437.1" y1="225.2" x2="444.1" y2="225.2" stroke="#2b2829" stroke-width="0.9" />
<line x1="474.6" y1="241.2" x2="454.5" y2="241.2" stroke="#2b2829" stroke-width="1" />
<polyline points="454.5,241.2 454.5,259.5 456.45,260.38 452.55,262.12 456.45,263.88 452.55,265.62 456.45,267.38 452.55,269.12 454.5,270 454.5,287.7" fill="none" stroke="#2b2829" stroke-width="1" />
<circle cx="454.5" cy="215.6" r="1.9" fill="#2b2829"/>
<circle cx="454.5" cy="241.2" r="1.9" fill="#2b2829"/>
<circle cx="454.5" cy="287.7" r="1.9" fill="#2b2829"/>
<line x1="488.3" y1="136.4" x2="488.3" y2="213.6" stroke="#2b2829" stroke-width="1" />
<circle cx="488.3" cy="136.4" r="1.9" fill="#2b2829"/>
<rect x="474.6" y="213.6" width="28.2" height="28.2" fill="#b1def7" stroke="#1b1c28" stroke-width="1" rx="0"/>
<text x="488.7" y="230.08" text-anchor="middle" textLength="24.8" lengthAdjust="spacingAndGlyphs" font-size="6.7" fill="#181b2c">LT8306</text>
<polyline points="488.3,245 532.5,245" fill="none" stroke="#2b2829" stroke-width="1" />
<line x1="532.5" y1="163.3" x2="532.5" y2="225" stroke="#2b2829" stroke-width="1" stroke-dasharray="3.3 2.0"/>
<line x1="532.5" y1="143" x2="532.5" y2="144.7" stroke="#2b2829" stroke-width="1" />
<line x1="530.5" y1="143.1" x2="534.5" y2="143.1" stroke="#2b2829" stroke-width="0.9" />
<rect x="527.65" y="144.6" width="9.7" height="18.7" fill="#0c93d2" stroke="#1c2b48" stroke-width="0.95" rx="0.6"/>
<line x1="532.5" y1="224.8" x2="532.5" y2="226.5" stroke="#2b2829" stroke-width="1" />
<line x1="530.5" y1="224.9" x2="534.5" y2="224.9" stroke="#2b2829" stroke-width="0.9" />
<rect x="527.65" y="226.4" width="9.7" height="18.8" fill="#0c93d2" stroke="#1c2b48" stroke-width="0.95" rx="0.6"/>
<path d="M515.5,237.8 h2.6 c1.6,0 1.4,-4.4 3,-4.4 h1.5" fill="none" stroke="#333333" stroke-width="0.8"/>
<line x1="524.7" y1="233.4" x2="527.6" y2="233.4" stroke="#2b2829" stroke-width="1" />
<line x1="502.8" y1="237.8" x2="515.5" y2="237.8" stroke="#2b2829" stroke-width="1" />
<polyline points="332.4,27.5 332.4,21.7 434.4,21.7 434.4,25.6" fill="none" stroke="#2b2829" stroke-width="1" />
<circle cx="387.1" cy="21.7" r="1.9" fill="#2b2829"/>
<line x1="332.4" y1="47.4" x2="332.4" y2="82.6" stroke="#2b2829" stroke-width="1" stroke-dasharray="3.3 2.0"/>
<line x1="332.4" y1="27.5" x2="332.4" y2="29.2" stroke="#2b2829" stroke-width="1" />
<line x1="330.4" y1="27.6" x2="334.4" y2="27.6" stroke="#2b2829" stroke-width="0.9" />
<rect x="327.55" y="29.1" width="9.7" height="18.3" fill="#0c93d2" stroke="#1c2b48" stroke-width="0.95" rx="0.6"/>
<line x1="332.4" y1="82.8" x2="332.4" y2="84.5" stroke="#2b2829" stroke-width="1" />
<line x1="330.4" y1="82.9" x2="334.4" y2="82.9" stroke="#2b2829" stroke-width="0.9" />
<rect x="327.55" y="84.4" width="9.7" height="18.5" fill="#0c93d2" stroke="#1c2b48" stroke-width="0.95" rx="0.6"/>
<polyline points="337.3,102.9 387.1,102.9" fill="none" stroke="#2b2829" stroke-width="1" />
<line x1="387.1" y1="21.7" x2="387.1" y2="69.6" stroke="#2b2829" stroke-width="1" />
<polyline points="387.1,98.6 387.1,115.6 434.4,115.6 434.4,47.4" fill="none" stroke="#2b2829" stroke-width="1" />
<rect x="373.2" y="69.9" width="27.6" height="28.9" fill="#b1def7" stroke="#1b1c28" stroke-width="1" rx="0"/>
<text x="387.2" y="86.58" text-anchor="middle" textLength="24.8" lengthAdjust="spacingAndGlyphs" font-size="6.7" fill="#181b2c">LT8306</text>
<polyline points="400.8,71.7 404.8,71.7 405.6,69.95 407.2,73.45 408.8,69.95 410.4,73.45 412,69.95 413.6,73.45 414.4,71.7 421.1,71.7" fill="none" stroke="#2b2829" stroke-width="1" />
<polyline points="421.1,71.7 421.1,60.5 434.4,60.5" fill="none" stroke="#2b2829" stroke-width="1" />
<polyline points="400.8,92.7 408.5,92.7 408.5,76.6" fill="none" stroke="#2b2829" stroke-width="1" />
<line x1="412.3" y1="76.4" x2="412.3" y2="79.3" stroke="#2b2829" stroke-width="1" />
<line x1="412.3" y1="82.1" x2="412.3" y2="86.9" stroke="#2b2829" stroke-width="1" />
<line x1="412.3" y1="88.8" x2="412.3" y2="92.7" stroke="#2b2829" stroke-width="1" />
<line x1="412.3" y1="78" x2="421.1" y2="78" stroke="#2b2829" stroke-width="1" />
<line x1="412.3" y1="84.5" x2="421.1" y2="84.5" stroke="#2b2829" stroke-width="1" />
<line x1="412.3" y1="90.3" x2="421.1" y2="90.3" stroke="#2b2829" stroke-width="1" />
<line x1="421.1" y1="71.7" x2="421.1" y2="78" stroke="#2b2829" stroke-width="1" />
<line x1="421.1" y1="84.5" x2="421.1" y2="97.3" stroke="#2b2829" stroke-width="1" />
<polygon points="413.5,84.5 418.9,82.6 418.9,86.4" fill="#2b2829" stroke="none" stroke-width="1"/>
<polyline points="421.1,75.5 425.5,75.5 425.5,93.6 421.1,93.6" fill="none" stroke="#2b2829" stroke-width="1" />
<polygon points="422.2,87.9 428.8,87.9 425.5,81.3" fill="#2b2829" stroke="none" stroke-width="1"/>
<line x1="422.2" y1="81.3" x2="428.8" y2="81.3" stroke="#2b2829" stroke-width="0.9" />
<polygon points="430.9,87.9 437.9,87.9 434.4,81.3" fill="#2b2829" stroke="none" stroke-width="1"/>
<line x1="430.9" y1="81.3" x2="437.9" y2="81.3" stroke="#2b2829" stroke-width="0.9" />
<line x1="400.8" y1="97.3" x2="421.1" y2="97.3" stroke="#2b2829" stroke-width="1" />
<polyline points="421.1,97.3 421.1,100.6 423.05,101.47 419.15,103.2 423.05,104.93 419.15,106.67 423.05,108.4 419.15,110.13 421.1,111 421.1,115.6" fill="none" stroke="#2b2829" stroke-width="1" />
<circle cx="421.1" cy="71.7" r="1.9" fill="#2b2829"/>
<circle cx="421.1" cy="97.3" r="1.9" fill="#2b2829"/>
<circle cx="421.1" cy="115.6" r="1.9" fill="#2b2829"/>
<rect x="439.1" y="25.8" width="4.4" height="22" fill="#a9abae" stroke="#8a8c8f" stroke-width="0.4"/>
<path d="M434.4,25.6 c5,0.4 5,5.05 0,5.45 c5,0.4 5,5.05 0,5.45 c5,0.4 5,5.05 0,5.45 c5,0.4 5,5.05 0,5.45" fill="none" stroke="#2b2829" stroke-width="1" stroke-linejoin="miter"/>
<path d="M448.2,25.6 c-5,0.4 -5,5.05 0,5.45 c-5,0.4 -5,5.05 0,5.45 c-5,0.4 -5,5.05 0,5.45 c-5,0.4 -5,5.05 0,5.45" fill="none" stroke="#2b2829" stroke-width="1" stroke-linejoin="miter"/>
<circle cx="432.5" cy="45" r="2" fill="#2b2829"/>
<circle cx="449.8" cy="28.6" r="2" fill="#2b2829"/>
<path d="M350.8,89.5 h2.6 c1.6,0 1.4,-4.9 3,-4.9 h1.5" fill="none" stroke="#333333" stroke-width="0.8"/>
<line x1="360" y1="84.6" x2="373" y2="84.6" stroke="#2b2829" stroke-width="1" />
<polyline points="448.2,25.6 448.2,21.7 539.4,21.7 539.4,27.8" fill="none" stroke="#2b2829" stroke-width="1" />
<circle cx="495.2" cy="21.7" r="1.9" fill="#2b2829"/>
<polyline points="448.2,47.4 448.2,115.6 495.2,115.6 495.2,98.4" fill="none" stroke="#2b2829" stroke-width="1" />
<line x1="495.2" y1="21.7" x2="495.2" y2="70.5" stroke="#2b2829" stroke-width="1" />
<rect x="481.3" y="70.3" width="28.2" height="28.2" fill="#b1def7" stroke="#1b1c28" stroke-width="1" rx="0"/>
<text x="495.8" y="86.78" text-anchor="middle" textLength="24.8" lengthAdjust="spacingAndGlyphs" font-size="6.7" fill="#181b2c">LT8306</text>
<polyline points="461.4,71.7 467.8,71.7 468.6,69.95 470.2,73.45 471.8,69.95 473.4,73.45 475,69.95 476.6,73.45 477.4,71.7 481.4,71.7" fill="none" stroke="#2b2829" stroke-width="1" />
<polyline points="461.4,71.7 461.4,60.5 448.2,60.5" fill="none" stroke="#2b2829" stroke-width="1" />
<polyline points="481.4,92.7 473.7,92.7 473.7,76.6" fill="none" stroke="#2b2829" stroke-width="1" />
<line x1="469.9" y1="76.4" x2="469.9" y2="79.3" stroke="#2b2829" stroke-width="1" />
<line x1="469.9" y1="82.1" x2="469.9" y2="86.9" stroke="#2b2829" stroke-width="1" />
<line x1="469.9" y1="88.8" x2="469.9" y2="92.7" stroke="#2b2829" stroke-width="1" />
<line x1="469.9" y1="78" x2="461.4" y2="78" stroke="#2b2829" stroke-width="1" />
<line x1="469.9" y1="84.5" x2="461.4" y2="84.5" stroke="#2b2829" stroke-width="1" />
<line x1="469.9" y1="90.3" x2="461.4" y2="90.3" stroke="#2b2829" stroke-width="1" />
<line x1="461.4" y1="71.7" x2="461.4" y2="78" stroke="#2b2829" stroke-width="1" />
<line x1="461.4" y1="84.5" x2="461.4" y2="97.3" stroke="#2b2829" stroke-width="1" />
<polygon points="468.7,84.5 463.3,82.6 463.3,86.4" fill="#2b2829" stroke="none" stroke-width="1"/>
<polyline points="461.4,75.5 457,75.5 457,93.6 461.4,93.6" fill="none" stroke="#2b2829" stroke-width="1" />
<polygon points="453.7,87.9 460.3,87.9 457,81.3" fill="#2b2829" stroke="none" stroke-width="1"/>
<line x1="453.7" y1="81.3" x2="460.3" y2="81.3" stroke="#2b2829" stroke-width="0.9" />
<polygon points="444.7,87.9 451.7,87.9 448.2,81.3" fill="#2b2829" stroke="none" stroke-width="1"/>
<line x1="444.7" y1="81.3" x2="451.7" y2="81.3" stroke="#2b2829" stroke-width="0.9" />
<line x1="481.4" y1="97.3" x2="461.4" y2="97.3" stroke="#2b2829" stroke-width="1" />
<polyline points="461.4,97.3 461.4,100.2 463.35,101.07 459.45,102.8 463.35,104.53 459.45,106.27 463.35,108 459.45,109.73 461.4,110.6 461.4,115.6" fill="none" stroke="#2b2829" stroke-width="1" />
<circle cx="461.4" cy="71.7" r="1.9" fill="#2b2829"/>
<circle cx="461.4" cy="97.3" r="1.9" fill="#2b2829"/>
<circle cx="461.4" cy="115.6" r="1.9" fill="#2b2829"/>
<polyline points="495.2,103.1 534.6,103.1" fill="none" stroke="#2b2829" stroke-width="1" />
<line x1="539.4" y1="47.4" x2="539.4" y2="83" stroke="#2b2829" stroke-width="1" stroke-dasharray="3.3 2.0"/>
<line x1="539.4" y1="27.8" x2="539.4" y2="29.5" stroke="#2b2829" stroke-width="1" />
<line x1="537.4" y1="27.9" x2="541.4" y2="27.9" stroke="#2b2829" stroke-width="0.9" />
<rect x="534.55" y="29.4" width="9.7" height="18" fill="#0c93d2" stroke="#1c2b48" stroke-width="0.95" rx="0.6"/>
<line x1="539.4" y1="83.2" x2="539.4" y2="84.9" stroke="#2b2829" stroke-width="1" />
<line x1="537.4" y1="83.3" x2="541.4" y2="83.3" stroke="#2b2829" stroke-width="0.9" />
<rect x="534.55" y="84.8" width="9.7" height="18.3" fill="#0c93d2" stroke="#1c2b48" stroke-width="0.95" rx="0.6"/>
<path d="M524,94.7 h2.6 c1.6,0 1.4,-5.8 3,-5.8 h1.5" fill="none" stroke="#333333" stroke-width="0.8"/>
<line x1="533.2" y1="88.9" x2="534.6" y2="88.9" stroke="#2b2829" stroke-width="1" />
<line x1="510.2" y1="94.7" x2="524" y2="94.7" stroke="#2b2829" stroke-width="1" />
<polyline points="209.1,349.6 209.1,331.6 239.3,331.6" fill="none" stroke="#2b2829" stroke-width="1" />
<polygon points="209.1,349.5 205.5,356.3 212.7,356.3" fill="#2b2829" stroke="none" stroke-width="1"/>
<path d="M204.6,350.7 l0.9,-1.1 h7.2 l0.9,-1.1" fill="none" stroke="#2b2829" stroke-width="1.0"/>
<polyline points="209.1,356 209.1,376.8 211.1,377.67 207.1,379.4 211.1,381.13 207.1,382.87 211.1,384.6 207.1,386.33 209.1,387.2 209.1,394.6" fill="none" stroke="#2b2829" stroke-width="1" />
<line x1="209.1" y1="367" x2="230.3" y2="367" stroke="#2b2829" stroke-width="1" />
<circle cx="209.1" cy="367" r="2" fill="#2b2829"/>
<polyline points="239.3,331.6 239.3,340.4 241.3,341.27 237.3,343 241.3,344.73 237.3,346.47 241.3,348.2 237.3,349.93 239.3,350.8 239.3,360.1" fill="none" stroke="#2b2829" stroke-width="1" />
<line x1="230.3" y1="360" x2="230.3" y2="374.8" stroke="#2b2829" stroke-width="1.5" />
<line x1="239.3" y1="360.1" x2="230.3" y2="363.3" stroke="#2b2829" stroke-width="1" />
<polygon points="231,363.1 235,359.6 236.2,363" fill="#2b2829" stroke="none" stroke-width="1"/>
<line x1="230.3" y1="371.5" x2="239.3" y2="375.7" stroke="#2b2829" stroke-width="1" />
<line x1="239.3" y1="375.7" x2="239.3" y2="394" stroke="#2b2829" stroke-width="1" />
<polygon points="235.7,381.8 242.9,381.8 239.3,388.4" fill="#2b2829" stroke="none" stroke-width="1"/>
<line x1="235.6" y1="388.5" x2="243" y2="388.5" stroke="#2b2829" stroke-width="1" />
<line x1="209.1" y1="394.6" x2="217.8" y2="400.9" stroke="#2b2829" stroke-width="1" />
<line x1="217.8" y1="398.2" x2="217.8" y2="414.4" stroke="#2b2829" stroke-width="1.5" />
<line x1="217.8" y1="406.4" x2="225.7" y2="406.4" stroke="#2b2829" stroke-width="1" />
<polyline points="225.7,406.4 233.4,406.4 234.5,404.5 236.7,408.3 238.9,404.5 241.1,408.3 243.3,404.5 245.5,408.3 246.6,406.4 248,406.4" fill="none" stroke="#2b2829" stroke-width="1" />
<polyline points="217.8,410.8 209.1,413.2 209.1,425.3 225.7,425.3" fill="none" stroke="#2b2829" stroke-width="1" />
<polygon points="209.6,413.1 213.8,409.7 214.8,413.6" fill="#2b2829" stroke="none" stroke-width="1"/>
<polyline points="225.7,406.4 225.7,411.2 227.7,412.08 223.7,413.85 227.7,415.62 223.7,417.38 227.7,419.15 223.7,420.92 225.7,421.8 225.7,425.3" fill="none" stroke="#2b2829" stroke-width="1" />
<circle cx="225.7" cy="406.4" r="2" fill="#2b2829"/>
<circle cx="225.7" cy="425.3" r="2" fill="#2b2829"/>
<line x1="225.7" y1="425.3" x2="225.7" y2="431" stroke="#2b2829" stroke-width="1" />
<line x1="220.7" y1="431" x2="230.7" y2="431" stroke="#2b2829" stroke-width="1" />
<line x1="222.4" y1="433.3" x2="229" y2="433.3" stroke="#2b2829" stroke-width="1" />
<line x1="224.1" y1="435.6" x2="227.3" y2="435.6" stroke="#2b2829" stroke-width="1" />
<circle cx="180" cy="372.5" r="6.3" fill="#eaf4fb" stroke="#2b2829" stroke-width="1.1"/>
<line x1="180" y1="368.2" x2="180" y2="372.5" stroke="#2b2829" stroke-width="1.3" />
<polygon points="177.9,371 182.1,371 180,377.4" fill="#2b2829" stroke="none" stroke-width="1"/>
<line x1="190.1" y1="372.6" x2="193.7" y2="372.6" stroke="#181b2c" stroke-width="1.4" />
<line x1="334.8" y1="326" x2="409.3" y2="326" stroke="#2b2829" stroke-width="1" />
<circle cx="334.8" cy="326" r="2" fill="#2b2829"/>
<circle cx="364.2" cy="326" r="2" fill="#2b2829"/>
<circle cx="394.9" cy="326" r="2" fill="#2b2829"/>
<circle cx="409.3" cy="326" r="2" fill="#2b2829"/>
<polygon points="346.6,322.8 346.6,329.2 353.2,326" fill="#2b2829" stroke="none" stroke-width="1"/>
<line x1="353.2" y1="322.8" x2="353.2" y2="329.2" stroke="#2b2829" stroke-width="0.9" />
<polygon points="375.5,322.8 375.5,329.2 382.1,326" fill="#2b2829" stroke="none" stroke-width="1"/>
<line x1="382.1" y1="322.8" x2="382.1" y2="329.2" stroke="#2b2829" stroke-width="0.9" />
<line x1="364.2" y1="326" x2="364.2" y2="335.2" stroke="#2b2829" stroke-width="1" />
<line x1="359.3" y1="335.2" x2="369.1" y2="335.2" stroke="#2b2829" stroke-width="1" />
<line x1="359.3" y1="338.3" x2="369.1" y2="338.3" stroke="#2b2829" stroke-width="1" />
<polyline points="364.2,338.3 364.2,348 334.8,348" fill="none" stroke="#2b2829" stroke-width="1" />
<circle cx="334.8" cy="348" r="2" fill="#2b2829"/>
<line x1="394.9" y1="326" x2="394.9" y2="336.2" stroke="#2b2829" stroke-width="1" />
<line x1="390" y1="336.2" x2="399.8" y2="336.2" stroke="#2b2829" stroke-width="1" />
<line x1="390" y1="339.3" x2="399.8" y2="339.3" stroke="#2b2829" stroke-width="1" />
<line x1="394.9" y1="339.3" x2="394.9" y2="348.5" stroke="#2b2829" stroke-width="1" />
<line x1="391.1" y1="348.5" x2="398.7" y2="348.5" stroke="#2b2829" stroke-width="1" />
<line x1="392.5" y1="350.6" x2="397.3" y2="350.6" stroke="#2b2829" stroke-width="1" />
<line x1="393.8" y1="352.7" x2="396" y2="352.7" stroke="#2b2829" stroke-width="1" />
<polyline points="285.6,359.3 291.2,359.3 291.2,336.2 307.4,336.2 307.4,359.3 313.8,359.3 313.8,336.2 328.6,336.2 328.6,359.3 334.2,359.3" fill="none" stroke="#2b2829" stroke-width="1" />
<rect x="296.6" y="389.3" width="46.1" height="34" fill="#b1def7" stroke="#1b1c28" stroke-width="1" rx="0"/>
<rect x="371.4" y="389.3" width="47.2" height="34" fill="#b1def7" stroke="#1b1c28" stroke-width="1" rx="0"/>
<rect x="447.2" y="389.3" width="46.6" height="34" fill="#b1def7" stroke="#1b1c28" stroke-width="1" rx="0"/>
<line x1="279" y1="394.1" x2="296.6" y2="394.1" stroke="#2b2829" stroke-width="1" />
<polygon points="273.8,394.1 281.6,391.5 281.6,396.7" fill="#2b2829" stroke="none" stroke-width="1"/>
<line x1="279" y1="418.2" x2="296.6" y2="418.2" stroke="#2b2829" stroke-width="1" />
<polygon points="273.8,418.2 281.6,415.6 281.6,420.8" fill="#2b2829" stroke="none" stroke-width="1"/>
<line x1="349.2" y1="406.1" x2="371.4" y2="406.1" stroke="#2b2829" stroke-width="1" />
<polygon points="344,406.1 351.8,403.5 351.8,408.7" fill="#2b2829" stroke="none" stroke-width="1"/>
<line x1="424.6" y1="405.9" x2="447.1" y2="405.9" stroke="#2b2829" stroke-width="1" />
<polygon points="419.4,405.9 427.2,403.3 427.2,408.5" fill="#2b2829" stroke="none" stroke-width="1"/>
<rect x="293.4" y="403.7" width="1" height="1" fill="#181b2c"/>
<rect x="293.4" y="405.9" width="1" height="1" fill="#181b2c"/>
<rect x="293.4" y="408.1" width="1" height="1" fill="#181b2c"/>
<text x="334.8" y="19.01" text-anchor="start" textLength="45.4" lengthAdjust="spacingAndGlyphs" font-size="6.8" fill="#181b2c">Vmodule Next</text>
<text x="338.7" y="39.01" text-anchor="start" textLength="45.3" lengthAdjust="spacingAndGlyphs" font-size="6.8" fill="#181b2c">CELL 16 + N + 1</text>
<text x="336.1" y="81.81" text-anchor="start" textLength="35.1" lengthAdjust="spacingAndGlyphs" font-size="6.8" fill="#181b2c">CELL 16 + 2</text>
<text x="441.1" y="19.01" text-anchor="middle" textLength="34.5" lengthAdjust="spacingAndGlyphs" font-size="6.8" fill="#181b2c">N1:N2 = 1:1</text>
<text x="430.1" y="39.01" text-anchor="middle" textLength="6.9" lengthAdjust="spacingAndGlyphs" font-size="6.8" fill="#181b2c">N1</text>
<text x="452.6" y="39.01" text-anchor="middle" textLength="8.1" lengthAdjust="spacingAndGlyphs" font-size="6.8" fill="#181b2c">N2</text>
<text x="495.4" y="18.91" text-anchor="middle" textLength="28.5" lengthAdjust="spacingAndGlyphs" font-size="6.8" fill="#181b2c">Vmodule</text>
<text x="532.4" y="32.61" text-anchor="end" textLength="29.6" lengthAdjust="spacingAndGlyphs" font-size="6.8" fill="#181b2c">CELL N+1</text>
<text x="511" y="85.31" text-anchor="start" textLength="22.3" lengthAdjust="spacingAndGlyphs" font-size="6.8" fill="#181b2c">CELL 2</text>
<text x="553.2" y="44.41" text-anchor="start" textLength="53.8" lengthAdjust="spacingAndGlyphs" font-size="6.8" fill="#181b2c">The N(N ≥ 1) cells</text>
<text x="553.5" y="180.01" text-anchor="start" textLength="53.8" lengthAdjust="spacingAndGlyphs" font-size="6.8" fill="#181b2c">The N(N ≥ 1) cells</text>
<text x="553.2" y="51.69" text-anchor="start" textLength="41.6" lengthAdjust="spacingAndGlyphs" font-size="6.8" fill="#181b2c">that make up</text>
<text x="553.5" y="187.36" text-anchor="start" textLength="41.6" lengthAdjust="spacingAndGlyphs" font-size="6.8" fill="#181b2c">that make up</text>
<text x="553.2" y="58.97" text-anchor="start" textLength="47.4" lengthAdjust="spacingAndGlyphs" font-size="6.8" fill="#181b2c">Vmodule come</text>
<text x="553.5" y="194.71" text-anchor="start" textLength="47.4" lengthAdjust="spacingAndGlyphs" font-size="6.8" fill="#181b2c">Vmodule come</text>
<text x="553.2" y="66.25" text-anchor="start" textLength="58.9" lengthAdjust="spacingAndGlyphs" font-size="6.8" fill="#181b2c">from the balanced</text>
<text x="553.5" y="202.06" text-anchor="start" textLength="58.9" lengthAdjust="spacingAndGlyphs" font-size="6.8" fill="#181b2c">from the balanced</text>
<text x="553.2" y="73.53" text-anchor="start" textLength="61.2" lengthAdjust="spacingAndGlyphs" font-size="6.8" fill="#181b2c">battery pack itself.</text>
<text x="553.5" y="209.41" text-anchor="start" textLength="61.2" lengthAdjust="spacingAndGlyphs" font-size="6.8" fill="#181b2c">battery pack itself.</text>
<text x="246.8" y="56.71" text-anchor="middle" textLength="128.2" lengthAdjust="spacingAndGlyphs" font-size="6.8" fill="#181b2c">The N(N ≥ 1) cells that make up Vmodule</text>
<text x="246.8" y="63.91" text-anchor="middle" textLength="141.7" lengthAdjust="spacingAndGlyphs" font-size="6.8" fill="#181b2c">next come from another battery pack itself</text>
<text x="246.8" y="71.21" text-anchor="middle" textLength="149.2" lengthAdjust="spacingAndGlyphs" font-size="6.8" fill="#181b2c">to achieve module-to-module (pack-to-pack)</text>
<text x="246.8" y="78.61" text-anchor="middle" textLength="55.3" lengthAdjust="spacingAndGlyphs" font-size="6.8" fill="#181b2c">active balancing.</text>
<text x="434" y="132.91" text-anchor="middle" textLength="36.1" lengthAdjust="spacingAndGlyphs" font-size="6.8" fill="#181b2c">N1:N2 = 1:N</text>
<text x="488.3" y="133.11" text-anchor="middle" textLength="28.5" lengthAdjust="spacingAndGlyphs" font-size="6.8" fill="#181b2c">Vmodule</text>
<text x="422.8" y="157.61" text-anchor="middle" textLength="6.9" lengthAdjust="spacingAndGlyphs" font-size="6.8" fill="#181b2c">N1</text>
<text x="445.4" y="157.61" text-anchor="middle" textLength="8.1" lengthAdjust="spacingAndGlyphs" font-size="6.8" fill="#181b2c">N2</text>
<text x="525.8" y="145.81" text-anchor="end" textLength="29.6" lengthAdjust="spacingAndGlyphs" font-size="6.8" fill="#181b2c">CELL N+1</text>
<text x="503.5" y="230.81" text-anchor="start" textLength="22.1" lengthAdjust="spacingAndGlyphs" font-size="6.8" fill="#181b2c">CELL 2</text>
<text x="348.7" y="168.41" text-anchor="start" textLength="9" lengthAdjust="spacingAndGlyphs" font-size="6.8" fill="#181b2c">7 V</text>
<text x="381.5" y="202.91" text-anchor="start" textLength="7.5" lengthAdjust="spacingAndGlyphs" font-size="6.8" fill="#181b2c">7V</text>
<text x="326.6" y="254.21" text-anchor="middle" textLength="52.4" lengthAdjust="spacingAndGlyphs" font-size="6.8" fill="#181b2c">7 V DC-to-DC for</text>
<text x="326.6" y="261.41" text-anchor="middle" textLength="68" lengthAdjust="spacingAndGlyphs" font-size="6.8" fill="#181b2c">Primary Side LT8306</text>
<text x="55.9" y="133.41" text-anchor="start" textLength="7.7" lengthAdjust="spacingAndGlyphs" font-size="6.8" fill="#181b2c">V+</text>
<text x="53" y="176.41" text-anchor="end" textLength="24.8" lengthAdjust="spacingAndGlyphs" font-size="6.8" fill="#181b2c">CELL 16</text>
<text x="53" y="222.41" text-anchor="end" textLength="24.8" lengthAdjust="spacingAndGlyphs" font-size="6.8" fill="#181b2c">CELL 15</text>
<text x="53" y="269.11" text-anchor="end" textLength="24.8" lengthAdjust="spacingAndGlyphs" font-size="6.8" fill="#181b2c">CELL 14</text>
<text x="53" y="302.01" text-anchor="end" textLength="29.8" lengthAdjust="spacingAndGlyphs" font-size="6.8" fill="#181b2c">CELL N+1</text>
<text x="53" y="382.31" text-anchor="end" textLength="21.8" lengthAdjust="spacingAndGlyphs" font-size="6.8" fill="#181b2c">CELL 3</text>
<text x="53" y="428.91" text-anchor="end" textLength="22" lengthAdjust="spacingAndGlyphs" font-size="6.8" fill="#181b2c">CELL 2</text>
<text x="53" y="475.71" text-anchor="end" textLength="20.6" lengthAdjust="spacingAndGlyphs" font-size="6.8" fill="#181b2c">CELL 1</text>
<text x="216.3" y="316.81" text-anchor="middle" textLength="57.2" lengthAdjust="spacingAndGlyphs" font-size="6.8" fill="#181b2c">Polarity Switches</text>
<text x="234.9" y="327.31" text-anchor="middle" textLength="47.8" lengthAdjust="spacingAndGlyphs" font-size="6.8" fill="#181b2c">Vcharge Pump</text>
<text x="183.7" y="387.31" text-anchor="middle" textLength="32.04" lengthAdjust="spacingAndGlyphs" font-size="6.8" fill="#181b2c">Simplified</text>
<text x="183.7" y="394.61" text-anchor="middle" textLength="24.07" lengthAdjust="spacingAndGlyphs" font-size="6.8" fill="#181b2c">Current</text>
<text x="183.7" y="401.91" text-anchor="middle" textLength="22.6" lengthAdjust="spacingAndGlyphs" font-size="6.8" fill="#181b2c">Source</text>
<text x="183.7" y="409.21" text-anchor="middle" textLength="24.11" lengthAdjust="spacingAndGlyphs" font-size="6.8" fill="#181b2c">Symbol</text>
<text x="249" y="408.91" text-anchor="start" textLength="16.7" lengthAdjust="spacingAndGlyphs" font-size="6.8" fill="#181b2c">gpio1</text>
<text x="234.5" y="446.31" text-anchor="middle" textLength="49" lengthAdjust="spacingAndGlyphs" font-size="6.8" fill="#181b2c">Current Source</text>
<text x="234.5" y="453.71" text-anchor="middle" textLength="64.5" lengthAdjust="spacingAndGlyphs" font-size="6.8" fill="#181b2c">For MOSFET Control</text>
<text x="295.1" y="328.41" text-anchor="start" textLength="34.8" lengthAdjust="spacingAndGlyphs" font-size="6.8" fill="#181b2c">CELL 16 + 2</text>
<text x="384.7" y="319.71" text-anchor="start" textLength="47.8" lengthAdjust="spacingAndGlyphs" font-size="6.8" fill="#181b2c">Vcharge Pump</text>
<text x="271" y="361.61" text-anchor="start" textLength="13.2" lengthAdjust="spacingAndGlyphs" font-size="6.8" fill="#181b2c">22 V</text>
<text x="276.2" y="389.41" text-anchor="start" textLength="17.1" lengthAdjust="spacingAndGlyphs" font-size="6.8" fill="#181b2c">gpio1</text>
<text x="272.4" y="427.41" text-anchor="start" textLength="20.9" lengthAdjust="spacingAndGlyphs" font-size="6.8" fill="#181b2c">gpio16</text>
<text x="319.7" y="404.11" text-anchor="middle" textLength="42.2" lengthAdjust="spacingAndGlyphs" font-size="6.8" fill="#181b2c">I/OExpander</text>
<text x="319.7" y="412.41" text-anchor="middle" textLength="30" lengthAdjust="spacingAndGlyphs" font-size="6.8" fill="#181b2c">MAX7312</text>
<text x="394.9" y="397.51" text-anchor="middle" textLength="15.6" lengthAdjust="spacingAndGlyphs" font-size="6.8" fill="#181b2c">CELL</text>
<text x="394.9" y="404.76" text-anchor="middle" textLength="25" lengthAdjust="spacingAndGlyphs" font-size="6.8" fill="#181b2c">Monitor</text>
<text x="394.9" y="412.01" text-anchor="middle" textLength="41" lengthAdjust="spacingAndGlyphs" font-size="6.8" fill="#181b2c">ADBMS8830</text>
<text x="394.9" y="419.26" text-anchor="middle" textLength="4.4" lengthAdjust="spacingAndGlyphs" font-size="6.8" fill="#181b2c">B</text>
<text x="470.5" y="405.01" text-anchor="middle" textLength="13.8" lengthAdjust="spacingAndGlyphs" font-size="6.8" fill="#181b2c">MCU</text>
<text x="470.5" y="412.21" text-anchor="middle" textLength="34" lengthAdjust="spacingAndGlyphs" font-size="6.8" fill="#181b2c">MAX32670</text>
<text x="422.6" y="401.01" text-anchor="start" textLength="20.4" lengthAdjust="spacingAndGlyphs" font-size="6.8" fill="#181b2c">isoSPI</text>
<text x="356" y="401.6" font-size="6.8" fill="#181b2c">I<tspan font-size="4" dy="-2.4">2</tspan><tspan dy="2.4">C</tspan></text>
<text x="319.7" y="432.11" text-anchor="middle" textLength="29.02" lengthAdjust="spacingAndGlyphs" font-size="6.8" fill="#181b2c">Switches</text>
<text x="319.7" y="439.36" text-anchor="middle" textLength="19.46" lengthAdjust="spacingAndGlyphs" font-size="6.8" fill="#181b2c">Matrix</text>
<text x="319.7" y="446.61" text-anchor="middle" textLength="23.68" lengthAdjust="spacingAndGlyphs" font-size="6.8" fill="#181b2c">Control</text>
<text x="394.9" y="432.1" text-anchor="middle" font-size="6.8" fill="#181b2c">I<tspan font-size="4" dy="-2.4">2</tspan><tspan dy="2.4">C Master</tspan></text>
<text x="394.9" y="439.31" text-anchor="middle" textLength="38.23" lengthAdjust="spacingAndGlyphs" font-size="6.8" fill="#181b2c">Cell Monitor</text>
<text x="470.5" y="431.71" text-anchor="middle" textLength="63.8" lengthAdjust="spacingAndGlyphs" font-size="6.8" fill="#181b2c">Cell Monitor Control</text>
<text x="470.5" y="439.21" text-anchor="middle" textLength="47.39" lengthAdjust="spacingAndGlyphs" font-size="6.8" fill="#181b2c">Active Balance</text>
<text x="470.5" y="446.71" text-anchor="middle" textLength="23.68" lengthAdjust="spacingAndGlyphs" font-size="6.8" fill="#181b2c">Control</text>
<text x="68.4" y="507.41" text-anchor="middle" textLength="42.89" lengthAdjust="spacingAndGlyphs" font-size="6.8" fill="#181b2c">Cell Switches</text>
<text x="68.4" y="514.31" text-anchor="middle" textLength="27.02" lengthAdjust="spacingAndGlyphs" font-size="6.8" fill="#181b2c">Matrices</text>
</svg>
</body></html>
